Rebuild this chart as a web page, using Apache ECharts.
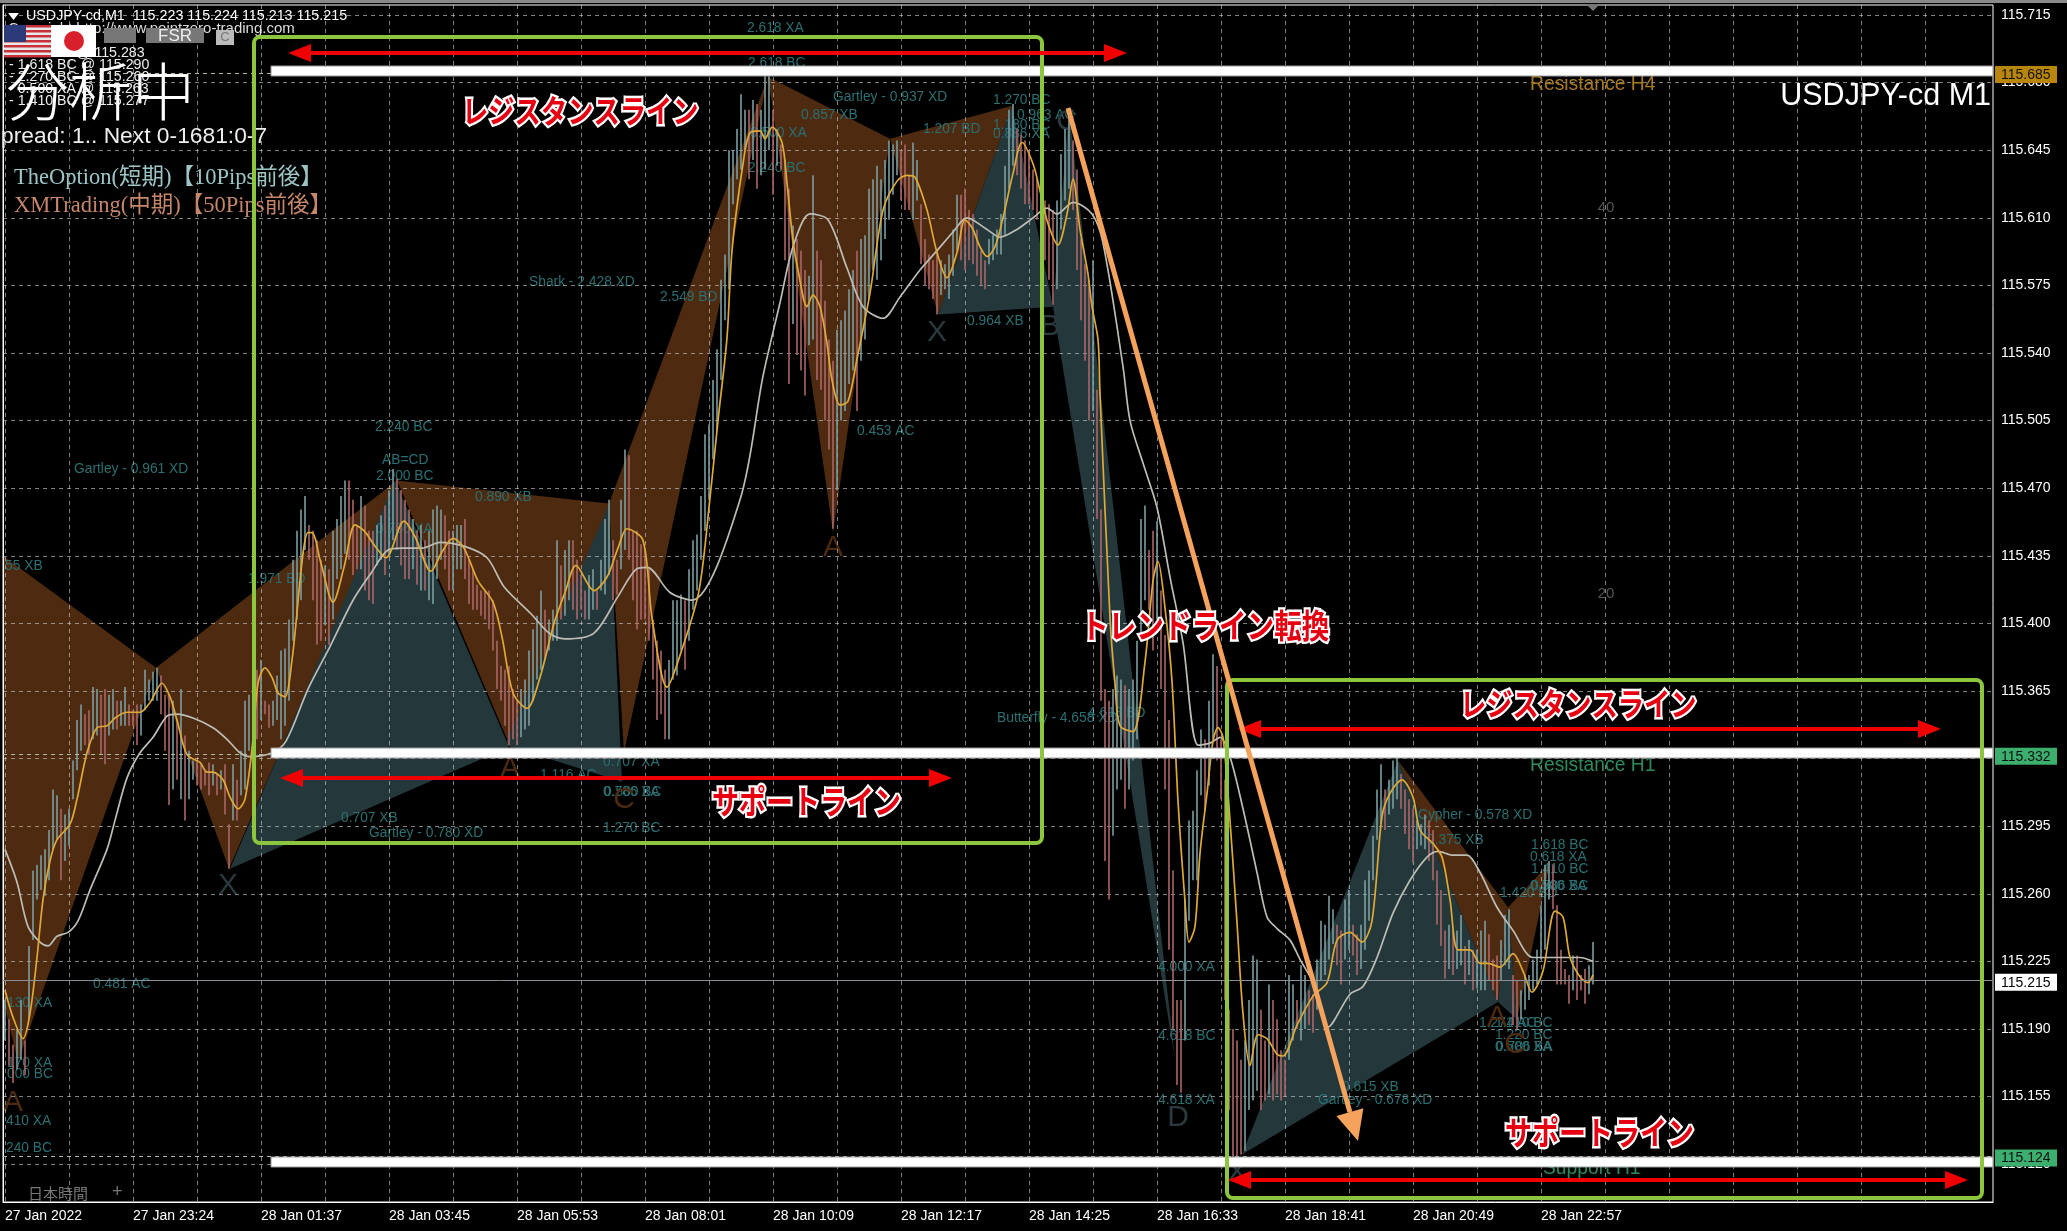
<!DOCTYPE html>
<html><head><meta charset="utf-8">
<style>html,body{margin:0;padding:0;background:#000}#c{width:2067px;height:1231px}</style>
<script src="https://cdn.jsdelivr.net/npm/echarts@6/dist/echarts.min.js"></script></head>
<body><div id="c"></div>
<script>
// ---- axis labels ----
const priceTicks = ['115.715','115.680','115.645','115.610','115.575','115.540','115.505','115.470','115.435','115.400','115.365','115.330','115.295','115.260','115.225','115.190','115.155','115.120'];
const priceLabels = ['115.715','115.680','115.645','115.610','115.575','115.540','115.505','115.470','115.435','115.400','115.365','115.295','115.260','115.225','115.190','115.155','115.120'];
const timeBars = [2,130,258,386,514,642,770,898,1026,1154,1282,1410,1538];
const timeLabels = ['27 Jan 2022','27 Jan 23:24','28 Jan 01:37','28 Jan 03:45','28 Jan 05:53','28 Jan 08:01','28 Jan 10:09','28 Jan 12:17','28 Jan 14:25','28 Jan 16:33','28 Jan 18:41','28 Jan 20:49','28 Jan 22:57'];
const timeGridBars = [2,66,130,194,258,322,386,450,514,578,642,706,770,834,898,962,1026,1090,1154,1218,1282,1346,1410,1474,1538,1602,1666,1730,1794,1858,1922,1986];
// ---- prices, thousandths above 115 ----
const barHighs = [205,195,182,190,205,184,233,272,275,280,283,293,314,311,304,301,304,329,350,358,353,355,367,366,363,366,363,366,360,360,367,358,355,358,358,376,371,375,377,373,363,363,360,350,366,342,334,329,329,327,324,328,327,322,324,327,296,327,319,334,360,363,386,376,381,360,358,360,373,386,387,402,433,448,459,466,451,448,443,433,430,428,448,454,466,474,474,464,451,466,461,448,448,451,456,461,469,480,475,469,464,459,454,448,451,443,448,459,461,459,456,448,448,451,451,454,433,428,420,417,417,417,412,391,378,376,378,366,360,366,371,386,397,404,417,407,402,407,443,430,438,443,443,433,425,417,425,428,417,433,454,464,443,433,464,490,487,448,448,441,438,428,402,391,386,376,381,412,412,415,412,428,443,446,466,498,503,526,542,578,591,645,645,656,674,666,666,671,669,666,687,684,666,656,648,640,625,606,599,593,583,580,632,593,588,567,547,536,552,557,562,573,583,593,599,601,625,630,637,630,640,650,648,650,645,648,632,649,640,617,599,591,588,593,588,586,591,604,622,622,625,614,612,604,593,588,599,601,604,612,637,666,669,656,653,650,645,635,630,625,619,617,614,619,643,656,663,650,635,599,586,578,588,521,459,366,360,366,373,371,368,366,371,391,454,461,438,448,453,417,394,350,272,205,205,257,298,303,324,345,340,360,384,378,340,319,200,190,184,174,184,205,228,226,200,184,213,205,195,179,174,218,213,205,223,218,210,208,226,246,244,259,252,244,241,257,262,244,239,244,267,272,290,314,327,314,319,329,332,322,314,309,304,298,296,301,298,293,272,262,241,244,241,241,249,233,236,231,231,241,246,239,226,228,236,249,252,218,215,210,218,218,226,231,254,275,277,275,254,231,221,218,228,228,218,221,223,235];
const barLows = [184,171,162,169,174,166,195,236,257,262,259,267,283,288,267,277,285,309,324,334,337,332,340,342,332,327,342,345,345,347,347,347,347,337,342,355,360,360,360,353,334,306,314,319,309,298,309,319,316,314,316,311,316,311,314,301,273,298,298,311,314,334,340,340,350,353,346,347,350,340,347,360,391,402,412,438,433,412,389,391,399,389,402,423,428,436,433,425,428,428,417,412,410,430,433,425,436,443,438,430,423,423,428,420,417,417,412,410,423,433,428,417,417,428,428,423,410,407,407,404,402,397,386,366,360,347,337,340,337,341,345,347,360,371,376,381,386,391,391,402,404,412,407,402,407,402,402,407,407,417,415,425,412,415,428,438,433,412,397,402,402,391,371,350,353,340,340,371,373,386,376,391,407,417,433,448,464,485,500,526,557,573,617,630,635,645,630,640,625,632,635,645,622,637,635,588,524,555,539,531,518,544,547,526,521,505,490,449,469,505,510,524,531,510,536,547,568,583,578,588,599,609,622,632,619,614,614,609,619,586,575,573,568,560,570,573,568,580,593,588,583,588,586,580,575,573,586,588,591,591,601,625,637,632,625,617,617,614,609,606,588,578,565,573,604,619,625,614,583,557,536,505,510,454,360,277,257,290,314,319,304,314,329,340,391,412,407,386,402,366,314,231,190,161,157,184,246,267,267,311,303,316,340,329,309,205,148,122,124,125,127,148,153,158,148,153,156,153,156,153,155,174,184,190,184,190,192,188,200,215,218,226,234,223,213,226,231,228,218,221,231,246,267,288,296,293,301,304,309,304,291,283,276,283,285,283,277,267,244,233,216,221,218,221,223,213,218,210,211,210,210,215,210,205,215,223,221,192,190,195,200,205,210,213,226,231,257,252,213,213,213,203,210,205,210,203,208,213];
const fastMaBars = [2,10,20,27,34,40,47,54,67,74,84,94,104,112,124,137,147,159,167,174,184,197,204,210,220,227,235,242,250,255,262,269,275,282,289,305,309,318,330,341,352,361,372,383,401,412,428,439,450,461,475,490,499,510,524,537,551,562,573,591,604,615,624,640,649,664,678,696,707,715,724,729,740,747,757,762,769,779,784,790,795,804,810,817,824,829,837,845,854,867,880,894,904,912,924,934,944,954,962,969,977,984,992,1000,1010,1019,1030,1037,1045,1055,1064,1070,1077,1085,1089,1095,1097,1107,1112,1117,1130,1142,1150,1155,1162,1169,1175,1182,1186,1192,1197,1204,1210,1215,1220,1227,1234,1240,1247,1255,1264,1274,1280,1294,1310,1324,1334,1347,1359,1369,1379,1387,1399,1410,1417,1430,1439,1447,1455,1467,1477,1485,1497,1510,1520,1529,1540,1552,1560,1567,1577,1585,1590];
const fastMaValues = [210,196,185,198,227,257,277,288,296,309,333,346,347,351,354,354,359,369,362,350,332,328,323,323,319,310,304,309,340,369,377,372,364,362,381,447,447,431,411,429,451,448,440,434,453,445,427,437,444,439,422,411,393,364,356,372,400,416,430,417,424,439,449,443,403,367,385,417,465,505,548,593,638,654,655,651,657,649,628,598,583,564,570,564,545,526,513,515,537,571,614,629,632,631,614,592,579,592,609,605,595,590,595,610,633,649,638,624,607,596,612,630,604,581,564,547,519,403,369,347,344,380,422,432,408,370,308,256,235,243,281,312,339,346,341,298,245,198,171,187,185,177,176,192,207,214,236,240,235,246,300,312,319,310,293,286,279,257,231,231,224,224,222,229,220,209,220,251,248,227,217,214,218];
const slowMaBars = [2,14,25,37,45,54,65,75,87,104,112,124,137,150,164,174,190,210,224,237,247,269,283,305,327,350,368,385,399,419,437,461,484,501,528,546,562,591,615,633,644,667,689,737,760,777,790,807,825,844,860,880,897,917,934,949,964,984,997,1014,1030,1044,1054,1070,1089,1100,1120,1127,1140,1154,1167,1180,1195,1207,1217,1227,1240,1254,1264,1274,1287,1297,1310,1325,1347,1360,1374,1390,1407,1424,1435,1450,1464,1477,1494,1510,1530,1550,1564,1577,1590];
const slowMaValues = [283,266,243,235,233,238,240,246,262,283,298,320,333,341,352,353,351,346,340,333,331,333,339,366,388,412,426,438,439,439,442,440,434,419,405,395,392,395,414,428,429,416,412,464,528,566,595,612,609,584,564,558,569,583,593,602,610,604,600,604,610,615,612,618,612,597,533,505,483,460,424,390,337,338,341,331,304,271,248,242,236,226,214,191,208,212,227,250,267,279,282,280,280,271,253,241,227,227,227,227,225];
const resistanceH4 = 685, resistanceH1 = 332, supportH1 = 124, lastPrice = 215;
// harmonic pattern triangles: bar number, thousandths above 115
const brownBars = [[0,153,15,0],[153,394,226],[394,608,509],[606,765,621],[765,887,830],[887,1009,935],[1395,1505,1495],[1505,1547,1514]];
const brownPrices = [[435,377,173,205],[377,474,273],[474,462,334],[462,683,333],[683,651,447],[651,668,560],[329,253,204],[253,276,195]];
const tealBars = [[227,392,506],[502,606,619],[935,1009,1050],[1050,1066,1172],[1239,1395,1495],[1495,1505,1514]];
const tealPrices = [[273,474,336],[337,462,318],[560,668,564],[564,666,174],[125,329,204],[204,253,195]];
// ---- text ----
const tealLabels = [['2.618 XA',747,28],['2.618 BC',748,63],['Gartley - 0.937 XD',833,97],['0.857 XB',801,115],['1.270 BC',993,100],['0.963 AC',1017,115],['1.180 BC',993,125],['0.886 XA',993,134],['1.207 BD',923,129],['0.500 XA',750,133],['2.240 BC',748,168],['2.549 BD',660,297],['Shark - 2.428 XD',529,282],['0.453 AC',857,431],['0.964 XB',967,321],['2.240 BC',375,427],['AB=CD',382,460],['2.000 BC',376,476],['0.890 XB',475,497],['0.786 XA',376,529],['Gartley - 0.961 XD',74,469],['1.971 BD',248,579],['55 XB',5,566],['0.707 XB',341,818],['Gartley - 0.780 XD',369,833],['1.116 AC',540,775],['0.707 XA',603,762],['0.786 XA',603,792],['0.500 BC',604,792],['1.270 BC',603,828],['0.481 AC',93,984],['130 XA',7,1003],['170 XA',7,1063],['000 BC',7,1074],['410 XA',6,1121],['240 BC',6,1148],['Butterfly - 4.658 XD',997,718],['4.618 BD',1088,713],['4.000 XA',1158,967],['4.618 BC',1158,1036],['4.618 XA',1158,1100],['0.615 XB',1342,1087],['Gartley - 0.678 XD',1318,1100],['Cypher - 0.578 XD',1418,815],['0.375 XB',1427,840],['1.618 BC',1531,845],['0.618 XA',1530,857],['1.410 BC',1531,869],['0.500 XA',1530,886],['0.786 BC',1531,886],['1.420 BD',1500,893],['1.271 AC',1479,1023],['1.410 BC',1495,1023],['1.220 BC',1495,1035],['0.500 XA',1495,1047],['0.786 BA',1496,1047]];
const brownLetters = [['A',13,1103],['A',510,769],['C',624,800],['A',833,548],['A',1497,1018],['C',1515,1045]];
const tealLetters = [['X',228,886],['X',937,333],['B',1050,327],['C',1067,122],['D',1178,1118],['X',1237,1173]];
const infoLines = [['-0.613 XA @ 115.283',9,53],['- 1.618 BC @ 115.290',9,65],['- 2.270 BC @ 115.260',9,77],['- 0.500 XA @ 115.263',9,89],['- 1.410 BC @ 115.277',9,101]];
const callouts = [['レジスタンスライン',462,111,26.3],['サポートライン',712,802,27],['トレンドライン転換',1081,625,27.6],['レジスタンスライン',1460,704,26.3],['サポートライン',1505,1133,27]];

const MIL = v => 115 + v / 1000;
const BG_BROWN = '#4d2a10', BG_TEAL = '#24373a';
const barData = barHighs.map((h, i) => {
  const prev = i ? barHighs[i-1] + barLows[i-1] : h + barLows[i];
  return [2 + 4 * i, MIL(barLows[i]), MIL(h), (h + barLows[i]) >= prev ? 1 : 0];
});
function triangleSeries(name, bars, prices, color) {
  return { name, type: 'custom', coordinateSystem: 'cartesian2d', z: 0, silent: true,
    data: bars.map((_, i) => i), encode: { x: [], y: [] },
    renderItem: (p, api) => {
      const i = api.value(0);
      return { type: 'polygon', shape: { points: bars[i].map((b, k) => api.coord([b, MIL(prices[i][k])])) }, style: { fill: color }, silent: true };
    } };
}
const T = (text, x, y, fill, font, extra) => ({ type: 'text', x, y, z: 1, silent: true, ...extra,
  style: { text, fill, font, textVerticalAlign: 'middle', ...(extra && extra.style) } });
const SMALL = '13.8px "Liberation Sans"';
const elems = [];
tealLabels.forEach(l => elems.push(T(l[0], l[1], l[2], '#2a7073', SMALL)));
brownLetters.forEach(l => elems.push(T(l[0], l[1], l[2], '#4d2a10', '30px "Liberation Sans"', { style: { textAlign: 'center' } })));
tealLetters.forEach(l => elems.push(T(l[0], l[1], l[2], '#2a3a3e', '30px "Liberation Sans"', { style: { textAlign: 'center' } })));
elems.push(T('40', 1606, 208, '#555', '15px "Liberation Sans"', { style: { textAlign: 'center' } }));
elems.push(T('20', 1606, 594, '#555', '15px "Liberation Sans"', { style: { textAlign: 'center' } }));
// level text
elems.push(T('Resistance H4', 1530, 85, '#a87a1c', '19.3px "Liberation Sans"', { z: 40 }));
elems.push(T('Resistance H1', 1530, 766, '#2f8a5b', '19.3px "Liberation Sans"', { z: 40 }));
elems.push(T('Support H1', 1543, 1169, '#2f8a5b', '19.3px "Liberation Sans"', { z: 40 }));
elems.push(T('USDJPY-cd M1', 1991, 97, '#ffffff', '30.5px "Liberation Sans"', { z: 40, style: { textAlign: 'right' } }));
// white bands
[[71],[753],[1162]].forEach(b => elems.push({ type: 'rect', z: 50, silent: true, shape: { x: 271, y: b[0]-5, width: 1722, height: 10 }, style: { fill: '#fff', stroke: '#999', lineWidth: 1 } }));
// green boxes
elems.push({ type: 'rect', z: 60, silent: true, shape: { x: 254, y: 37, width: 788, height: 806, r: 6 }, style: { fill: 'none', stroke: '#8cc63f', lineWidth: 4 } });
elems.push({ type: 'rect', z: 60, silent: true, shape: { x: 1227, y: 680, width: 755, height: 518, r: 6 }, style: { fill: 'none', stroke: '#8cc63f', lineWidth: 4 } });
// red double arrows
function dblArrow(x1, x2, y) {
  const c = '#f00000', L = 23, H = 9;
  elems.push({ type: 'line', z: 70, silent: true, shape: { x1: x1 + L - 2, y1: y, x2: x2 - L + 2, y2: y }, style: { stroke: c, lineWidth: 4 } });
  elems.push({ type: 'polygon', z: 70, silent: true, shape: { points: [[x1, y], [x1 + L, y - H], [x1 + L, y + H]] }, style: { fill: c } });
  elems.push({ type: 'polygon', z: 70, silent: true, shape: { points: [[x2, y], [x2 - L, y - H], [x2 - L, y + H]] }, style: { fill: c } });
}
dblArrow(288, 1127, 53); dblArrow(280, 952, 778); dblArrow(1238, 1941, 729); dblArrow(1228, 1968, 1180);
// orange arrow
(function () {
  const a = [1068, 108], t = [1358, 1141], c = '#f4a25c';
  const dx = t[0]-a[0], dy = t[1]-a[1], n = Math.hypot(dx, dy), ux = dx/n, uy = dy/n;
  const bx = t[0]-ux*30, by = t[1]-uy*30;
  elems.push({ type: 'line', z: 72, silent: true, shape: { x1: a[0], y1: a[1], x2: bx, y2: by }, style: { stroke: c, lineWidth: 5 } });
  elems.push({ type: 'polygon', z: 72, silent: true, shape: { points: [t, [bx+uy*14, by-ux*14], [bx-uy*14, by+ux*14]] }, style: { fill: c } });
})();
// callouts
callouts.forEach(c => elems.push(T(c[0], c[1], c[2], '#e60012', 'bold ' + c[3] + 'px "Noto Sans CJK JP"', { z: 80, scaleY: 1.2, style: { stroke: '#fff', lineWidth: 4 } })));
// top left block
elems.push({ type: 'polygon', z: 30, silent: true, shape: { points: [[8,13],[19,13],[13.5,20]] }, style: { fill: '#fff' } });
elems.push(T('USDJPY-cd,M1  115.223 115.224 115.213 115.215', 26, 16, '#fff', '14.3px "Liberation Sans"', { z: 30 }));
elems.push(T('Copyright http://www.pointzero-trading.com', 8, 29, '#ddd', '15px "Liberation Sans"', { z: 30 }));
infoLines.forEach(l => elems.push(T(l[0], l[1], l[2], '#eee', '14.2px "Liberation Sans"', { z: 30 })));
// flags and buttons
elems.push({ type: 'rect', z: 31, silent: true, shape: { x: 4, y: 25, width: 47, height: 32 }, style: { fill: '#e8e8e8' } });
[25,30,35,40,45,50,55].forEach(y => elems.push({ type: 'rect', z: 31, silent: true, shape: { x: 4, y, width: 47, height: 2.4 }, style: { fill: '#c8303a' } }));
elems.push({ type: 'rect', z: 31, silent: true, shape: { x: 4, y: 25, width: 22, height: 17 }, style: { fill: '#2b3a78' } });
elems.push({ type: 'rect', z: 31, silent: true, shape: { x: 51, y: 25, width: 45, height: 32 }, style: { fill: '#fff' } });
elems.push({ type: 'circle', z: 32, silent: true, shape: { cx: 74, cy: 41, r: 10 }, style: { fill: '#d8202c' } });
elems.push({ type: 'rect', z: 31, silent: true, shape: { x: 104, y: 28, width: 32, height: 15 }, style: { fill: '#777' } });
elems.push({ type: 'rect', z: 31, silent: true, shape: { x: 146, y: 28, width: 58, height: 15 }, style: { fill: '#777' } });
elems.push(T('FSR', 175, 36, '#eee', '17px "Liberation Sans"', { z: 32, style: { textAlign: 'center' } }));
elems.push({ type: 'rect', z: 31, silent: true, shape: { x: 216, y: 30, width: 18, height: 15 }, style: { fill: '#bbb' } });
elems.push(T('C', 225, 37, '#777', '13px "Liberation Sans"', { z: 32, style: { textAlign: 'center' } }));
elems.push(T('分析中', 6, 91, '#fff', '300 63px "Noto Sans CJK JP"', { z: 33 }));
elems.push(T('pread: 1.. Next 0-1681:0-7', 1, 137, '#eee', '22.8px "Liberation Sans"', { z: 33 }));
elems.push(T('TheOption(短期)【10Pips前後】', 14, 178, '#9cc6c6', '22.5px "Liberation Serif","Noto Sans CJK JP"', { z: 33 }));
elems.push(T('XMTrading(中期)【50Pips前後】', 14, 206, '#c6866a', '22.5px "Liberation Serif","Noto Sans CJK JP"', { z: 33 }));
elems.push(T('日本時間', 28, 1193, '#777', '15px "Noto Sans CJK JP"', { z: 33 }));
elems.push(T('+', 112, 1192, '#777', '18px "Liberation Sans"', { z: 33 }));
elems.push({ type: 'rect', z: 90, silent: true, shape: { x: 0, y: 0, width: 2067, height: 3 }, style: { fill: '#8a8a8a' } });
elems.push({ type: 'polygon', z: 90, silent: true, shape: { points: [[1586,4],[1600,4],[1593,11]] }, style: { fill: '#777' } });

const tags = [[resistanceH4, '#b8860b', '#111'], [resistanceH1, '#3cae6e', '#111'], [lastPrice, '#fff', '#000'], [supportH1, '#3cae6e', '#111']];

const chart = echarts.init(document.getElementById('c'), null, { renderer: 'canvas' });
chart.setOption({
  animation: false, backgroundColor: '#000',
  grid: { left: 3, top: 5, width: 1990, height: 1197, show: true, backgroundColor: '#000', borderColor: '#fff', borderWidth: 1, containLabel: false },
  xAxis: { type: 'value', min: 0, max: 1990, z: 1,
    axisLine: { show: true, lineStyle: { color: '#fff' } }, axisTick: { show: false, customValues: timeGridBars },
    axisLabel: { customValues: timeBars, margin: 7, color: '#fff', align: 'left', fontSize: 14, fontFamily: 'Liberation Sans', showMinLabel: true, showMaxLabel: true, hideOverlap: false,
      formatter: v => timeLabels[timeBars.indexOf(Math.round(v))] || '' },
    splitLine: { show: true, showMinLine: true, showMaxLine: false, lineStyle: { color: 'rgba(205,205,205,0.62)', type: [4, 4], width: 1 } } },
  yAxis: { type: 'value', position: 'right', min: 115.1004, max: 115.7202, scale: true, z: 1,
    axisLine: { show: true, lineStyle: { color: '#fff' } }, axisTick: { show: false, customValues: priceTicks.map(Number) },
    axisLabel: { customValues: priceLabels.map(Number), margin: 8, color: '#fff', fontSize: 14, fontFamily: 'Liberation Sans', padding: [3, 0, 0, 0], hideOverlap: false, showMinLabel: true, showMaxLabel: true, formatter: v => v.toFixed(3) },
    splitLine: { show: true, lineStyle: { color: 'rgba(205,205,205,0.62)', type: [4, 4], width: 1 } } },
  graphic: { elements: elems },
  series: [
    triangleSeries('brown', brownBars, brownPrices, BG_BROWN),
    triangleSeries('teal', tealBars, tealPrices, BG_TEAL),
    { name: 'bars', type: 'custom', z: 2, silent: true, data: barData, encode: { x: 0, y: [1, 2] },
      renderItem: (p, api) => {
        const a = api.coord([api.value(0), api.value(1)]), b = api.coord([api.value(0), api.value(2)]);
        return { type: 'line', shape: { x1: a[0], y1: a[1], x2: b[0], y2: b[1] }, style: { stroke: api.value(3) ? '#7b9ea1' : '#ad6668', lineWidth: 1.6 }, silent: true };
      } },
    { name: 'slow MA', type: 'line', z: 3, silent: true, symbol: 'none', smooth: 0.3, data: slowMaBars.map((b, i) => [b, MIL(slowMaValues[i])]), lineStyle: { color: '#bdbdb6', width: 1.7 } },
    { name: 'fast MA', type: 'line', z: 4, silent: true, symbol: 'none', smooth: 0.3, data: fastMaBars.map((b, i) => [b, MIL(fastMaValues[i])]), lineStyle: { color: '#dfa936', width: 1.7 },
      markLine: { silent: true, symbol: 'none', animation: false, precision: 3, label: { show: false },
        data: [{ yAxis: MIL(lastPrice), lineStyle: { color: '#8a9097', type: 'solid', width: 1 } },
               { yAxis: MIL(resistanceH4), lineStyle: { color: '#b8b8a0', type: [4, 4], width: 1 } },
               { yAxis: MIL(resistanceH1), lineStyle: { color: '#a8c0a8', type: [4, 4], width: 1 } },
               { yAxis: MIL(supportH1), lineStyle: { color: '#a8c0a8', type: [4, 4], width: 1 } }] } },
    { name: 'price tags', type: 'custom', z: 20, silent: true, data: tags.map((_, i) => i), encode: { x: [], y: [] },
      renderItem: (p, api) => {
        const t = tags[api.value(0)], c = api.coord([1990, MIL(t[0])]);
        return { type: 'group', silent: true, children: [
          { type: 'rect', shape: { x: c[0] + 2, y: c[1] - 7, width: 62, height: 17 }, style: { fill: t[1] } },
          { type: 'text', x: c[0] + 8, y: c[1] + 2, style: { text: (115 + t[0] / 1000).toFixed(3), fill: t[2], font: '14px "Liberation Sans"', textVerticalAlign: 'middle' } }
        ] };
      } }
  ]
});
</script></body></html>
